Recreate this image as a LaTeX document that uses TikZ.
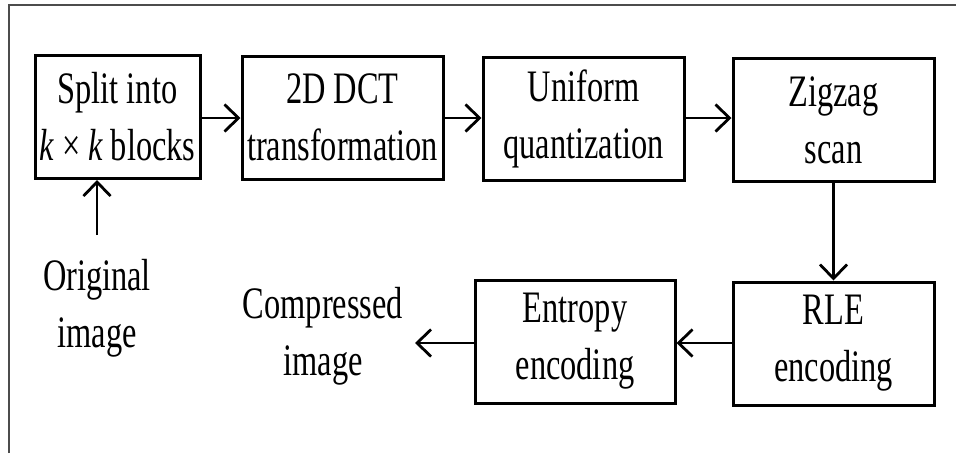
\documentclass[tikz,border=0pt]{standalone}
\usepackage{fontspec}
\setmainfont[FakeStretch=0.72]{Liberation Serif}
\usetikzlibrary{arrows.meta}
\begin{document}
\begin{tikzpicture}[x=1pt,y=-1pt,
  txt/.style={align=center, inner sep=0pt, font=\fontsize{45}{57}\selectfont},
  blockbox/.style={txt, draw, line width=3pt, minimum height=123pt},
  flow/.style={line width=2.8pt, -{Straight Barb[length=14pt,width=27pt]}},
  frameline/.style={line width=2pt, draw=black!70}]
\useasboundingbox (0,0) rectangle (959,453);
\draw[frameline] (9,453) -- (9,5) -- (956,5);
\node[blockbox, minimum width=165pt] (b1) at (117.5,117) {Split into\\{\itshape k} × {\itshape k} blocks};
\node[blockbox, minimum width=201pt] (b2) at (342.5,117.5) {2D DCT\\transformation};
\node[blockbox, minimum width=201pt] (b3) at (583.5,119) {Uniform\\quantization};
\node[blockbox, minimum width=201pt] (b4) at (833.5,120) {Zigzag\\scan};
\node[blockbox, minimum width=201pt] (rle) at (833.5,343.5) {RLE\\encoding};
\node[blockbox, minimum width=200pt] (ent) at (575,341.5) {Entropy\\encoding};
\node[txt] (orig) at (97,308) {Original\\image};
\node[txt] (comp) at (323,336) {Compressed\\image};
\coordinate (origtop) at (97,235);
\coordinate (compend) at (415,343);
\draw[flow] (b1.east |- 0,118) -- (b2.west |- 0,118);
\draw[flow] (b2.east |- 0,118) -- (b3.west |- 0,118);
\draw[flow] (b3.east |- 0,118) -- (b4.west |- 0,118);
\draw[flow] (b4.south) -- (rle.north);
\draw[flow] (rle.west |- 0,343) -- (ent.east |- 0,343);
\draw[flow] (ent.west |- 0,343) -- (compend);
\draw[flow] (origtop) -- (origtop |- b1.south);
\end{tikzpicture}
\end{document}
